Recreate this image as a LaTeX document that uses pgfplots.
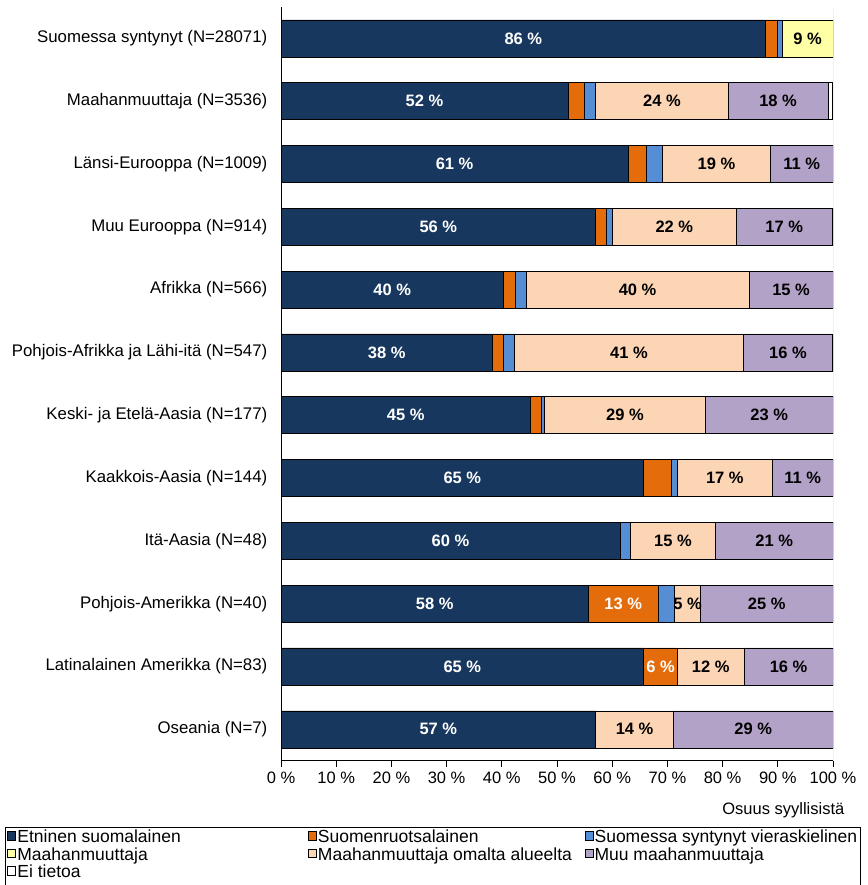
\documentclass[border=0pt]{standalone}
\usepackage{fontspec}
\setmainfont{Liberation Sans}
\usepackage{pgfplots}
\usepackage{pgfplotstable}
\pgfplotsset{compat=1.18}
\definecolor{cdark}{RGB}{23,55,94}
\definecolor{corange}{RGB}{228,108,10}
\definecolor{cblue}{RGB}{85,142,213}
\definecolor{cyellow}{RGB}{255,255,165}
\definecolor{cpeach}{RGB}{252,213,181}
\definecolor{cpurple}{RGB}{179,162,199}
\pgfplotsset{
  mybar/.style={fill=#1, draw=black, line width=0.6pt,
    legend image code/.code={\draw[fill=#1,draw=black,line width=0.6pt] (0pt,-1.5pt) rectangle (8pt,7pt);}},
}
\pgfplotstableread{
row dark orange blue yellow peach purple white
0  87.8 2.1  0.9 9.2 0    0    0
1  52.0 2.9  2.0 0   24.1 18.1 0.8
2  62.9 3.2  3.0 0   19.6 11.3 0
3  57.0 1.9  1.1 0   22.5 17.3 0.2
4  40.3 2.1  2.0 0   40.4 15.2 0
5  38.3 2.0  2.0 0   41.5 16.1 0.1
6  45.2 2.0  0.5 0   29.2 23.1 0
7  65.7 5.0  1.1 0   17.2 11.0 0
8  61.4 0    1.9 0   15.4 21.3 0
9  55.7 12.6 3.0 0   4.7  24.0 0
10 65.7 6.1  0   0   12.1 16.1 0
11 57.0 0    0   0   14.1 28.9 0
}\datatable
\begin{document}
\fontsize{16.5}{19}\selectfont
\begin{tikzpicture}
\useasboundingbox (0pt,0pt) rectangle (867pt,885pt);
\begin{axis}[
  at={(281pt,124.3pt)}, anchor=south west,
  scale only axis, width=552pt, height=753.7pt,
  xbar stacked, bar width=37pt,
  xmin=0, xmax=100, ymin=-0.5, ymax=11.5, y dir=reverse,
  ytick={0,...,11},
  yticklabels={Suomessa syntynyt (N=28071),Maahanmuuttaja (N=3536),Länsi-Eurooppa (N=1009),Muu Eurooppa (N=914),Afrikka (N=566),Pohjois-Afrikka ja Lähi-itä (N=547),Keski- ja Etelä-Aasia (N=177),Kaakkois-Aasia (N=144),Itä-Aasia (N=48),Pohjois-Amerikka (N=40),Latinalainen Amerikka (N=83),Oseania (N=7)},
  yticklabel style={font=\fontsize{16.8}{19}\selectfont, xshift=-2pt},
  xtick={0,10,...,100},
  xticklabel={\pgfmathprintnumber[assume math mode=true]{\tick}~\%},
  axis x line*=bottom, axis y line*=left,
  axis line style={-, black, line width=0.8pt},
  tick align=outside, major tick length=6pt,
  xtick style={black, line width=0.8pt},
  ytick style={draw=none},
  legend columns=3,
  legend cell align=left,
  legend style={at={(-0.5,-0.088)}, anchor=north west, draw=black, line width=0.6pt,
    inner xsep=2pt, inner ysep=2.5pt, row sep=0pt,
    font=\fontsize{17.5}{18}\selectfont,
    nodes={inner ysep=0.5pt, inner xsep=1.5pt, text height=12.5pt, text depth=4pt},
    /tikz/every even column/.append style={column sep=0pt}},
]
\addplot[mybar=cdark] table[x=dark,y=row]{\datatable};
\addlegendentry{\makebox[289pt][l]{Etninen suomalainen}}
\addplot[mybar=corange] table[x=orange,y=row]{\datatable};
\addlegendentry{\makebox[265pt][l]{Suomenruotsalainen}}
\addplot[mybar=cblue] table[x=blue,y=row]{\datatable};
\addlegendentry{Suomessa syntynyt vieraskielinen}
\addplot[mybar=cyellow] table[x=yellow,y=row]{\datatable};
\addlegendentry{\makebox[289pt][l]{Maahanmuuttaja}}
\addplot[mybar=cpeach] table[x=peach,y=row]{\datatable};
\addlegendentry{\makebox[265pt][l]{Maahanmuuttaja omalta alueelta}}
\addplot[mybar=cpurple] table[x=purple,y=row]{\datatable};
\addlegendentry{Muu maahanmuuttaja}
\addplot[mybar=white] table[x=white,y=row]{\datatable};
\addlegendentry{Ei tietoa}
\draw[gray!80, line width=0.8pt] (rel axis cs:1,0) -- (rel axis cs:1,1);
\end{axis}
\begin{axis}[
  at={(281pt,124.3pt)}, anchor=south west,
  scale only axis, width=552pt, height=753.7pt,
  xmin=0, xmax=100, ymin=-0.5, ymax=11.5, y dir=reverse,
  hide axis,
]
\addplot[draw=none, mark=none, nodes near coords, nodes near coords align=center,
  point meta=explicit symbolic,
  every node near coord/.append style={anchor=center, font=\bfseries, text=white}]
  coordinates {
  (43.9,0) [86 \%]
  (26.0,1) [52 \%]
  (31.45,2) [61 \%]
  (28.5,3) [56 \%]
  (20.15,4) [40 \%]
  (19.15,5) [38 \%]
  (22.6,6) [45 \%]
  (32.85,7) [65 \%]
  (30.7,8) [60 \%]
  (27.85,9) [58 \%]
  (62.0,9) [13 \%]
  (32.85,10) [65 \%]
  (68.75,10) [6 \%]
  (28.5,11) [57 \%]
  };
\addplot[draw=none, mark=none, nodes near coords, nodes near coords align=center,
  point meta=explicit symbolic,
  every node near coord/.append style={anchor=center, font=\bfseries, text=black}]
  coordinates {
  (95.4,0) [9 \%]
  (69.0,1) [24 \%]
  (90.05,1) [18 \%]
  (78.9,2) [19 \%]
  (94.35,2) [11 \%]
  (71.25,3) [22 \%]
  (91.15,3) [17 \%]
  (64.6,4) [40 \%]
  (92.4,4) [15 \%]
  (63.05,5) [41 \%]
  (91.85,5) [16 \%]
  (62.3,6) [29 \%]
  (88.45,6) [23 \%]
  (80.4,7) [17 \%]
  (94.5,7) [11 \%]
  (71.0,8) [15 \%]
  (89.35,8) [21 \%]
  (73.65,9) [5 \%]
  (88.0,9) [25 \%]
  (77.85,10) [12 \%]
  (91.95,10) [16 \%]
  (64.05,11) [14 \%]
  (85.55,11) [29 \%]
  };
\end{axis}
\node[anchor=base east] at (850pt,70pt) {Osuus syyllisistä};
\end{tikzpicture}
\end{document}
